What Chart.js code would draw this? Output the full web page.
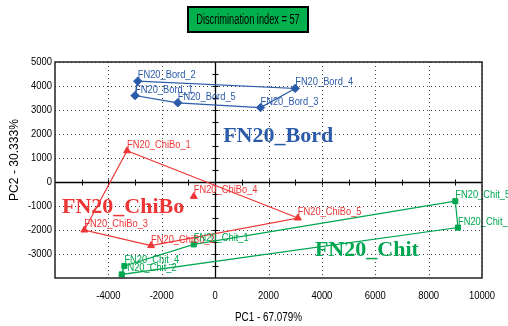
<!DOCTYPE html>
<html>
<head>
<meta charset="utf-8">
<script src="https://cdn.jsdelivr.net/npm/chart.js@4.4.1/dist/chart.umd.min.js"></script>
<style>
  html, body { margin: 0; padding: 0; background: #fff; }
</style>
</head>
<body>
<canvas id="c" width="508" height="326"></canvas>
<script>
// PCA scores per group (PC1, PC2)
const bordNames = ['FN20_Bord_1', 'FN20_Bord_2', 'FN20_Bord_3', 'FN20_Bord_4', 'FN20_Bord_5'];
const bordX = [-3000, -2900, 1700, 3000, -1400];
const bordY = [3600, 4200, 3100, 3900, 3300];
const bordHull = [1, 3, 2, 4, 0, 1];

const chiboNames = ['FN20_ChiBo_1', 'FN20_ChiBo_2', 'FN20_ChiBo_3', 'FN20_ChiBo_4', 'FN20_ChiBo_5'];
const chiboX = [-3300, -2400, -4900, -800, 3100];
const chiboY = [1300, -2650, -2000, -600, -1500];
const chiboHull = [0, 4, 1, 2, 0];

const chitNames = ['FN20_Chit_1', 'FN20_Chit_2', 'FN20_Chit_3', 'FN20_Chit_4', 'FN20_Chit_5'];
const chitX = [-800, -3500, 9100, -3400, 9000];
const chitY = [-2600, -3850, -1900, -3500, -800];
const chitHull = [4, 2, 1, 3, 0, 4];

const groupNames = ['FN20_Bord', 'FN20_ChiBo', 'FN20_Chit'];
const xTicks = [-4000, -2000, 0, 2000, 4000, 6000, 8000, 10000];
const yTicks = [-3000, -2000, -1000, 0, 1000, 2000, 3000, 4000, 5000];
const titleText = 'Discrimination index = 57';
const xTitle = 'PC1 - 67.079%';
const yTitle = 'PC2 - 30.333%';

// 顏色與字型
const C = {
  bord: '#2b5ba8',
  chibo: '#ee3535',
  chit: '#00a650',
  box: '#00b04c',
  grid: '#444',
};
const SANS = "'Liberation Sans', Arial, sans-serif";
const SERIF = "'Liberation Serif', 'Times New Roman', serif";

// 大字群組標籤的錨點（資料座標）
const groupAnchors = [
  { x: 300, y: 1650, color: C.bord },
  { x: -5740, y: -1290, color: C.chibo },
  { x: 3740, y: -3080, color: C.chit },
];

const pts = (xs, ys) => xs.map((x, i) => ({ x, y: ys[i] }));
const hull = (xs, ys, order) => order.map((i) => ({ x: xs[i], y: ys[i] }));

const mkHull = (xs, ys, order, color) => ({
  data: hull(xs, ys, order),
  showLine: true,
  borderColor: color,
  borderWidth: 1.2,
  pointRadius: 0,
  fill: false,
  tension: 0,
});
const mkPoints = (xs, ys, names, color, style) => ({
  data: pts(xs, ys),
  names,
  showLine: false,
  pointStyle: style,
  pointRadius: style === 'triangle' ? 4 : style === 'rectRot' ? 4.2 : 3.6,
  backgroundColor: color,
  borderColor: color,
  borderWidth: 1,
});

const datasets = [
  mkHull(bordX, bordY, bordHull, C.bord),
  mkHull(chiboX, chiboY, chiboHull, C.chibo),
  mkHull(chitX, chitY, chitHull, C.chit),
  mkPoints(bordX, bordY, bordNames, C.bord, 'rectRot'),
  mkPoints(chiboX, chiboY, chiboNames, C.chibo, 'triangle'),
  mkPoints(chitX, chitY, chitNames, C.chit, 'rect'),
];

// 窄體字：以水平縮放模擬 Arial Narrow
function narrowText(ctx, text, x, y, sx, align, rot) {
  ctx.save();
  ctx.translate(x, y);
  if (rot) ctx.rotate(rot);
  ctx.scale(sx, 1);
  ctx.textAlign = align;
  ctx.fillText(text, 0, 0);
  ctx.restore();
}

// 虛點格線、零軸（含刻度）、刻度文字、外框、點標籤、群組標籤、標題框
const decor = {
  id: 'decor',
  beforeDatasetsDraw(chart) {
    const { ctx, chartArea: a, scales: { x, y } } = chart;
    ctx.save();
    // dotted grid
    ctx.strokeStyle = C.grid;
    ctx.lineWidth = 1;
    ctx.setLineDash([1, 3]);
    ctx.beginPath();
    xTicks.forEach((v) => {
      const px = Math.round(x.getPixelForValue(v)) + 0.5;
      ctx.moveTo(px, a.top); ctx.lineTo(px, a.bottom);
    });
    yTicks.forEach((v) => {
      const py = Math.round(y.getPixelForValue(v)) + 0.5;
      ctx.moveTo(a.left, py); ctx.lineTo(a.right, py);
    });
    ctx.stroke();
    ctx.setLineDash([]);

    // zero axes with cross ticks
    const x0 = Math.round(x.getPixelForValue(0)) + 0.5;
    const y0 = Math.round(y.getPixelForValue(0)) + 0.5;
    ctx.strokeStyle = '#000';
    ctx.lineWidth = 1.3;
    ctx.beginPath();
    ctx.moveTo(a.left, y0); ctx.lineTo(a.right, y0);
    ctx.moveTo(x0, a.top); ctx.lineTo(x0, a.bottom);
    ctx.stroke();
    ctx.lineWidth = 1;
    ctx.beginPath();
    for (let v = x.min + 1000; v < x.max; v += 1000) {
      const px = Math.round(x.getPixelForValue(v)) + 0.5;
      ctx.moveTo(px, y0 - 3); ctx.lineTo(px, y0 + 3);
    }
    for (let v = y.min + 500; v < y.max; v += 500) {
      const py = Math.round(y.getPixelForValue(v)) + 0.5;
      ctx.moveTo(x0 - 3, py); ctx.lineTo(x0 + 3, py);
    }
    ctx.stroke();

    // tick labels
    ctx.fillStyle = '#000';
    ctx.font = `11.5px ${SANS}`;
    ctx.textBaseline = 'middle';
    xTicks.forEach((v) => narrowText(ctx, String(v), x.getPixelForValue(v), 296, 0.82, 'center'));
    yTicks.forEach((v) => narrowText(ctx, String(v), a.left - 3, y.getPixelForValue(v), 0.82, 'right'));

    // axis titles
    ctx.font = `13px ${SANS}`;
    narrowText(ctx, xTitle, (a.left + a.right) / 2, 317, 0.76, 'center');
    narrowText(ctx, yTitle, 14.5, 160, 0.93, 'center', -Math.PI / 2);
    ctx.restore();
  },
  afterDatasetsDraw(chart) {
    const { ctx, chartArea: a, scales: { x, y } } = chart;
    ctx.save();
    // point labels
    ctx.font = `11.5px ${SANS}`;
    ctx.textBaseline = 'alphabetic';
    chart.data.datasets.forEach((ds, di) => {
      if (!ds.names) return;
      const meta = chart.getDatasetMeta(di);
      ctx.fillStyle = ds.borderColor;
      meta.data.forEach((p, i) => narrowText(ctx, ds.names[i], p.x, p.y - 3, 0.81, 'left'));
    });
    // group labels
    ctx.font = `bold 22px ${SERIF}`;
    ctx.textAlign = 'left';
    groupAnchors.forEach((g, i) => {
      ctx.fillStyle = g.color;
      ctx.fillText(groupNames[i], x.getPixelForValue(g.x), y.getPixelForValue(g.y));
    });
    // frame
    ctx.strokeStyle = '#222';
    ctx.lineWidth = 1.5;
    ctx.strokeRect(a.left, a.top, a.right - a.left, a.bottom - a.top);
    ctx.restore();
  },
  afterDraw(chart) {
    const { ctx } = chart;
    ctx.save();
    ctx.fillStyle = C.box;
    ctx.fillRect(188, 7, 120, 25);
    ctx.strokeStyle = '#000';
    ctx.lineWidth = 2;
    ctx.strokeRect(188, 7, 120, 25);
    ctx.fillStyle = '#000';
    ctx.font = `14px ${SANS}`;
    ctx.textBaseline = 'middle';
    narrowText(ctx, titleText, 248, 20, 0.66, 'center');
    ctx.restore();
  },
};

new Chart(document.getElementById('c'), {
  type: 'scatter',
  data: { datasets },
  plugins: [decor],
  options: {
    responsive: false,
    animation: false,
    devicePixelRatio: 1,
    layout: { padding: { top: 62, right: 26, left: 0, bottom: 0 } },
    plugins: { legend: { display: false }, tooltip: { enabled: false } },
    scales: {
      x: {
        type: 'linear',
        min: -6000,
        max: 10000,
        afterFit: (s) => { s.height = 48; },
        ticks: { display: false, stepSize: 2000 },
        grid: { display: false },
        border: { display: false },
      },
      y: {
        type: 'linear',
        min: -4000,
        max: 5000,
        afterFit: (s) => { s.width = 55; },
        ticks: { display: false, stepSize: 1000 },
        grid: { display: false },
        border: { display: false },
      },
    },
  },
});
</script>
</body>
</html>
